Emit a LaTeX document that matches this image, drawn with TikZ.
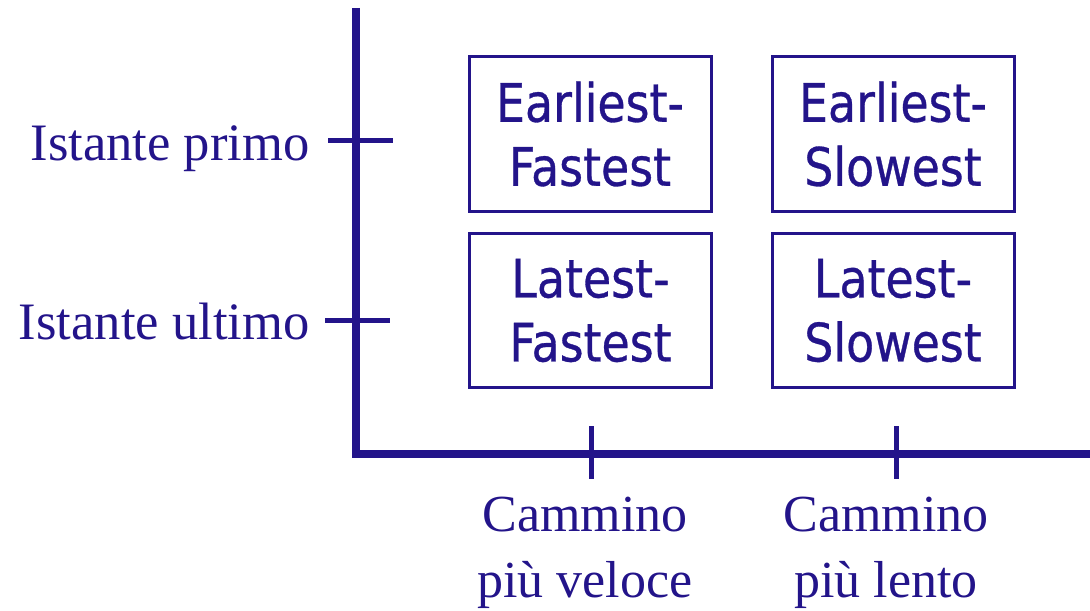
\documentclass[tikz,border=0pt]{standalone}
\usepackage{fontspec}
\setmainfont{Liberation Serif}
\newfontfamily\boxfont[FakeStretch=0.865,FakeBold=0.6]{DejaVu Sans}
\definecolor{ink}{RGB}{35,20,138}
\begin{document}
\begin{tikzpicture}[x=0.5pt,y=-0.5pt,
  axis/.style={draw=ink,line width=4pt,line join=miter},
  tick/.style={draw=ink,line width=2.5pt},
  cell/.style={draw=ink,line width=1.5pt,text=ink,minimum width=121pt,minimum height=77pt,
    inner sep=0pt,align=center,font={\boxfont\fontsize{26.5}{32}\selectfont}},
  ylabel/.style={text=ink,inner sep=0pt,anchor=base east,font={\fontsize{26.3}{32}\selectfont}},
  xlabel/.style={text=ink,inner sep=0pt,align=center,font={\fontsize{26}{33}\selectfont}}]
\useasboundingbox (0,0) rectangle (1090,610);

% axes
\coordinate (ytop) at (356,8);
\coordinate (origin) at (356,454);
\coordinate (xend) at (1092,454);
\draw[axis] (ytop) -- (origin) -- (xend);

% tick marks
\coordinate (t1a) at (328,140); \coordinate (t1b) at (393,140);
\coordinate (t2a) at (325,320); \coordinate (t2b) at (390,320);
\coordinate (t3a) at (591,426); \coordinate (t3b) at (591,479);
\coordinate (t4a) at (896,426); \coordinate (t4b) at (896,479);
\draw[tick] (t1a) -- (t1b);
\draw[tick] (t2a) -- (t2b);
\draw[tick] (t3a) -- (t3b);
\draw[tick] (t4a) -- (t4b);

% axis labels
\node[ylabel] (primo) at (310,160) {Istante primo};
\node[ylabel] (ultimo) at (310,339) {Istante ultimo};
\node[xlabel] (veloce) at (585,553) {Cammino\\più veloce};
\node[xlabel] (lento) at (886,553) {Cammino\\più lento};

% quadrant boxes
\node[cell] (ef) at (590,134) {Earliest-\\Fastest};
\node[cell] (es) at (893,134) {Earliest-\\Slowest};
\node[cell] (lf) at (590.5,310.5) {Latest-\\Fastest};
\node[cell] (ls) at (893,310.5) {Latest-\\Slowest};
\end{tikzpicture}
\end{document}
